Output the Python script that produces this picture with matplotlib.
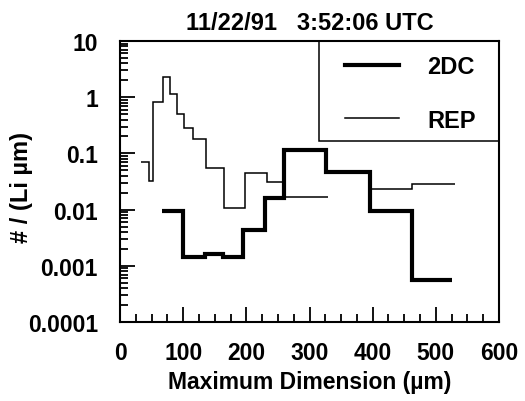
import numpy as np
import matplotlib
matplotlib.use("Agg")
import matplotlib.pyplot as plt
from matplotlib.patches import Rectangle
from matplotlib.ticker import FixedLocator, LogLocator, MultipleLocator, FuncFormatter, NullFormatter

plt.rcParams['font.family'] = ['Liberation Sans', 'DejaVu Sans']
plt.rcParams['font.weight'] = 'bold'
plt.rcParams['font.size'] = 16.5

# Datos: 2DC (bordes de los intervalos y concentraciones)
edges_2dc = [66, 100, 134, 163, 195, 230, 259, 326, 396, 462, 526]
vals_2dc = [0.0093, 0.00145, 0.0016, 0.00145, 0.0044, 0.016, 0.115, 0.046, 0.0093, 0.00055]

# Datos: REP (dos tramos)
edges_rep1 = [34, 46, 53, 68, 79, 90, 101, 115, 136, 165, 198, 232, 258, 329]
vals_rep1 = [0.070, 0.032, 0.83, 2.3, 1.16, 0.50, 0.28, 0.18, 0.056, 0.0106, 0.044, 0.031, 0.017]
edges_rep2 = [397, 463, 530]
vals_rep2 = [0.023, 0.028]

fig = plt.figure(figsize=(5.25, 4.02), dpi=100)
ax = fig.add_axes([0.2286, 0.1965, 0.7219, 0.699])

ax.stairs(vals_2dc, edges_2dc, baseline=None, color='black', linewidth=3.0, label='2DC')
ax.stairs(vals_rep1, edges_rep1, baseline=None, color='black', linewidth=1.1, label='REP')
ax.stairs(vals_rep2, edges_rep2, baseline=None, color='black', linewidth=1.1)

ax.set_yscale('log')
ax.set_xlim(0, 600)
ax.set_ylim(1e-4, 10)

ax.xaxis.set_major_locator(MultipleLocator(100))
ax.xaxis.set_minor_locator(MultipleLocator(25))
ax.yaxis.set_major_locator(FixedLocator([1e-4, 1e-3, 1e-2, 1e-1, 1, 10]))
ax.yaxis.set_minor_locator(LogLocator(base=10, subs=np.arange(2, 10)))
ax.yaxis.set_major_formatter(FuncFormatter(lambda v, p: '%g' % v))
ax.yaxis.set_minor_formatter(NullFormatter())

ax.tick_params(which='both', direction='in', width=1.3, top=False, right=False)
ax.tick_params(which='major', length=11)
ax.tick_params(which='minor', length=5.5)
ax.tick_params(axis='y', pad=16)
ax.tick_params(axis='x', pad=14)
for s in ax.spines.values():
    s.set_linewidth(1.5)

ax.set_title('11/22/91   3:52:06 UTC', fontsize=17, fontweight='bold', pad=9)
ax.set_xlabel('Maximum Dimension (µm)', fontweight='bold', labelpad=4)
ax.set_ylabel('# / (Li µm)', fontsize=17, fontweight='bold')
ax.yaxis.set_label_coords(-0.2296, 0.484)

# caja de la leyenda
ax.add_patch(Rectangle((0.525, 0.644), 0.475, 0.356, transform=ax.transAxes,
                       fill=False, edgecolor='black', linewidth=1.1, zorder=3))
leg = ax.legend(bbox_to_anchor=(0.594, 0.95), loc='upper left', frameon=False,
                borderaxespad=0, borderpad=0, labelspacing=1.29,
                handlelength=2.3, handletextpad=1.19, fontsize=17)

plt.savefig('out.png', dpi=100)
